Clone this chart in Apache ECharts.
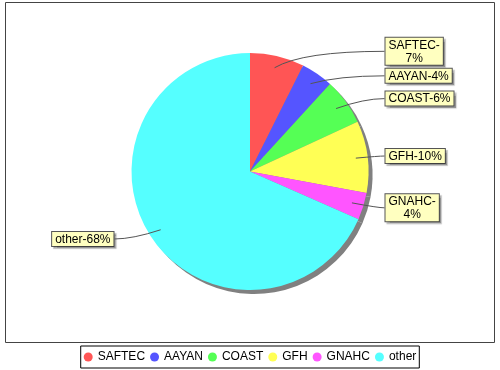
<!DOCTYPE html>
<html>
<head>
<meta charset="utf-8">
<script src="https://cdn.jsdelivr.net/npm/echarts@6/dist/echarts.min.js"></script>
<style>html,body{margin:0;padding:0;background:#fff;}#c{width:500px;height:370px;}</style>
</head>
<body>
<div id="c"></div>
<script>
const categories = ['SAFTEC', 'AAYAN', 'COAST', 'GFH', 'GNAHC', 'other'];
const values = [7.4, 4.4, 6.3, 9.8, 3.7, 68.4];
const colors = ['#FF5555', '#5555FF', '#55FF55', '#FFFF55', '#FF55FF', '#55FFFF'];

const FONT = '"Liberation Sans", Arial, sans-serif';
const ctx = document.createElement('canvas').getContext('2d');
ctx.font = '12px ' + FONT;

const CX = 250, CY = 171.5, R = 118.5;
const LINK = 5, GAP = 3, LINE_H = 13;
const total = values.reduce((a, b) => a + b, 0);

function labelText(i) {
  const pct = Math.round(values[i] / total * 100) + '%';
  const s = categories[i] + '-' + pct;
  if (ctx.measureText(s).width > 63.5) return [categories[i] + '-', pct];
  return [s];
}

// label geometry derived from the data angles
const info = [];
(function () {
  let cum = 0;
  values.forEach((v, i) => {
    const a = (cum + v / 2) / total * Math.PI * 2;
    cum += v;
    const dx = Math.sin(a), dy = -Math.cos(a);
    const lines = labelText(i);
    info.push({
      dx, dy, right: dx >= 0,
      h: lines.length * LINE_H + 2,
      y: CY + dy * (R + LINK)
    });
  });
  [true, false].forEach(side => {
    const list = info.filter(o => o.right === side).sort((p, q) => p.y - q.y);
    for (let k = 1; k < list.length; k++) {
      const min = list[k - 1].y + (list[k - 1].h + list[k].h) / 2 + GAP;
      if (list[k].y < min) list[k].y = min;
    }
  });
  info.forEach(o => { o.x = o.right ? CX + R + 17 : CX - R - 18; });
})();

const chart = echarts.init(document.getElementById('c'), null, {renderer: 'canvas'});

const guideLines = info.map(o => {
  const sx = CX + o.dx * R * 0.9, sy = CY + o.dy * R * 0.9;
  const ex = o.right ? o.x - 1 : o.x + 1, ey = o.y;
  const cpx = sx + (o.right ? 1 : -1) * Math.min(28, Math.abs(ex - sx) * 0.8);
  return {
    type: 'bezierCurve', z: 20, silent: true,
    shape: {x1: sx, y1: sy, x2: ex, y2: ey, cpx1: cpx, cpy1: ey},
    style: {stroke: '#555', lineWidth: 1, fill: null}
  };
});

chart.setOption({
  animation: false,
  backgroundColor: '#fff',
  graphic: [{
    type: 'rect', z: -10, silent: true,
    shape: {x: 5.5, y: 2.5, width: 489, height: 340},
    style: {fill: '#fff', stroke: '#444', lineWidth: 1}
  }].concat(guideLines),
  legend: {
    bottom: 2, left: 'center',
    icon: 'circle', itemWidth: 9, itemHeight: 9, itemGap: 5,
    borderColor: '#000', borderWidth: 1, padding: [5, 3],
    textStyle: {fontSize: 12, fontFamily: FONT, color: '#000'},
    selectedMode: false,
    data: categories
  },
  series: [{
    type: 'pie', silent: true, z: 1,
    center: [CX + 4, CY + 4], radius: R,
    startAngle: 90, clockwise: true,
    label: {show: false}, labelLine: {show: false},
    itemStyle: {color: '#808080', borderWidth: 0},
    data: values.map((v, i) => ({name: '_s' + i, value: v}))
  }, {
    type: 'pie', z: 2,
    center: [CX, CY], radius: R,
    startAngle: 90, clockwise: true,
    selectedMode: false,
    avoidLabelOverlap: false,
    color: colors,
    itemStyle: {borderWidth: 0},
    label: {
      show: true, position: 'outside',
      formatter: function (p) {
        return labelText(p.dataIndex).map(t => '{c|' + t + '}').join('\n');
      },
      rich: {c: {align: 'center', fontSize: 12, fontFamily: FONT, color: '#000', lineHeight: LINE_H}},
      backgroundColor: '#FFFFC0', borderColor: '#555', borderWidth: 1,
      padding: [1, 3, 0, 3],
      shadowColor: 'rgba(0,0,0,0.25)', shadowOffsetX: 2, shadowOffsetY: 2, shadowBlur: 1
    },
    labelLine: {show: false},
    labelLayout: function (p) {
      if (p.seriesIndex !== 1) return {};
      const o = info[p.dataIndex];
      return {
        x: o.x, y: o.y,
        align: o.right ? 'left' : 'right',
        verticalAlign: 'middle'
      };
    },
    data: categories.map((c, i) => ({name: c, value: values[i]}))
  }]
});
</script>
</body>
</html>
